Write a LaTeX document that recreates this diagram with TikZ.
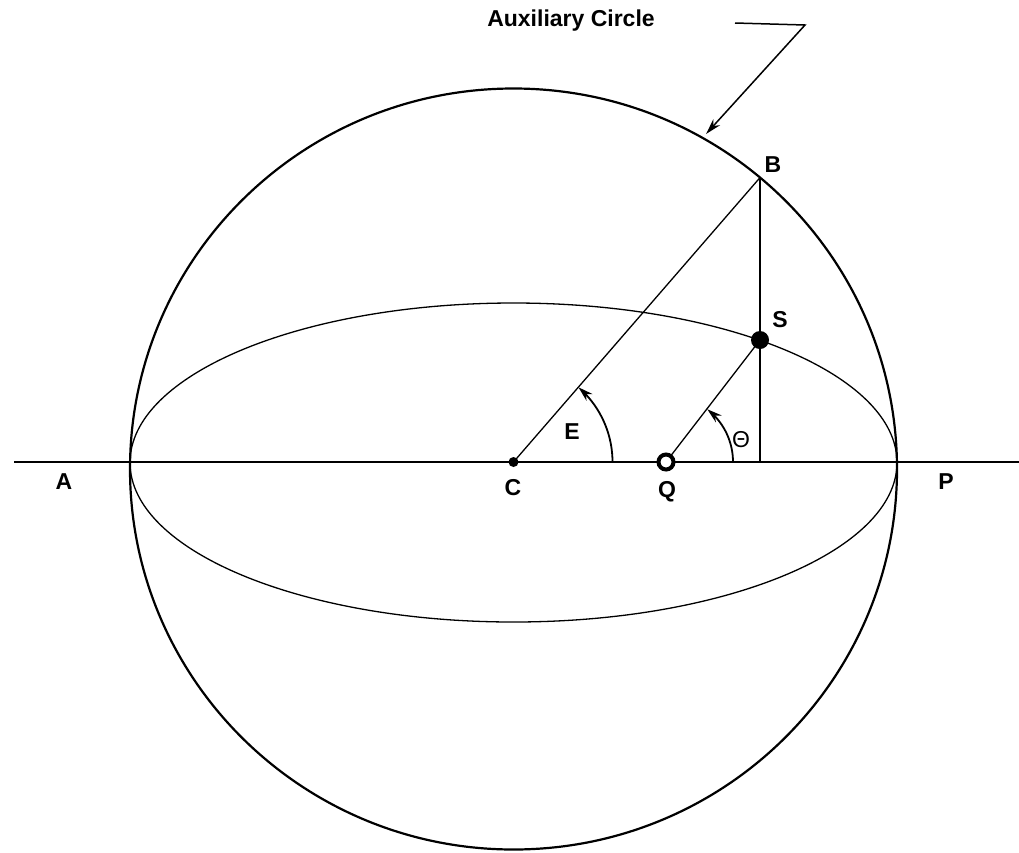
\documentclass[tikz,border=0pt]{standalone}
\usepackage{fontspec}
\setmainfont{Liberation Sans}
\usetikzlibrary{arrows.meta,bending}
\begin{document}
\begin{tikzpicture}[x=1pt,y=-1pt,
  lab/.style={font=\fontsize{23}{26}\selectfont\bfseries, inner sep=0pt},
  thin line/.style={line width=1.3pt},
  thick line/.style={line width=2.2pt},
  angarrow/.style={line width=1.8pt,-{Stealth[length=15pt,width=9pt,flex=0.5]}}]
\useasboundingbox (0,0) rectangle (1019,852);
% points
\coordinate (C) at (513.5,462);
\coordinate (Q) at (666,462);
\coordinate (B) at (760,177.6);
\coordinate (S) at (760,340);
\coordinate (F) at (760,462);
\coordinate (L) at (14,462);
\coordinate (R) at (1019,462);
% auxiliary circle and ellipse
\draw[thick line] (513.5,469) ellipse [x radius=383.5, y radius=380.5];
\draw[thin line] (513.5,462.5) ellipse [x radius=383.5, y radius=159.5];
% axis
\draw[thin line] (L) -- (R);
% lines
\draw[thin line] (C) -- (B);
\draw[thin line] (B) -- (F);
\draw[thin line] (Q) -- (S);
% angle arcs
\draw[angarrow] (612.5,462) arc[start angle=0, end angle=-49, radius=99];
\draw[angarrow] (733,462) arc[start angle=0, end angle=-52, radius=67];
% points markers
\fill (C) circle (5);
\draw[line width=4pt, fill=white] (Q) circle (7.5);
\fill (S) circle (9);
% labels
\node[lab] (lA) at (64,482) {A};
\node[lab] (lC) at (513,488) {C};
\node[lab] (lQ) at (667,492) {Q};
\node[lab] (lP) at (946,482) {P};
\node[lab] (lB) at (773,165) {B};
\node[lab] (lS) at (780,320) {S};
\node[lab] (lE) at (572,432) {E};
\node[lab, font=\fontsize{23}{26}\selectfont] (lT) at (741,440) {Θ};
\node[lab] (aux) at (571,21) {Auxiliary Circle};
% leader
\coordinate (l1) at (735,23);
\coordinate (l2) at (805,25);
\coordinate (l3) at (706,134);
\draw[line width=1.5pt, -{Stealth[length=16pt,width=9pt]}] (l1) -- (l2) -- (l3);
\end{tikzpicture}
\end{document}
